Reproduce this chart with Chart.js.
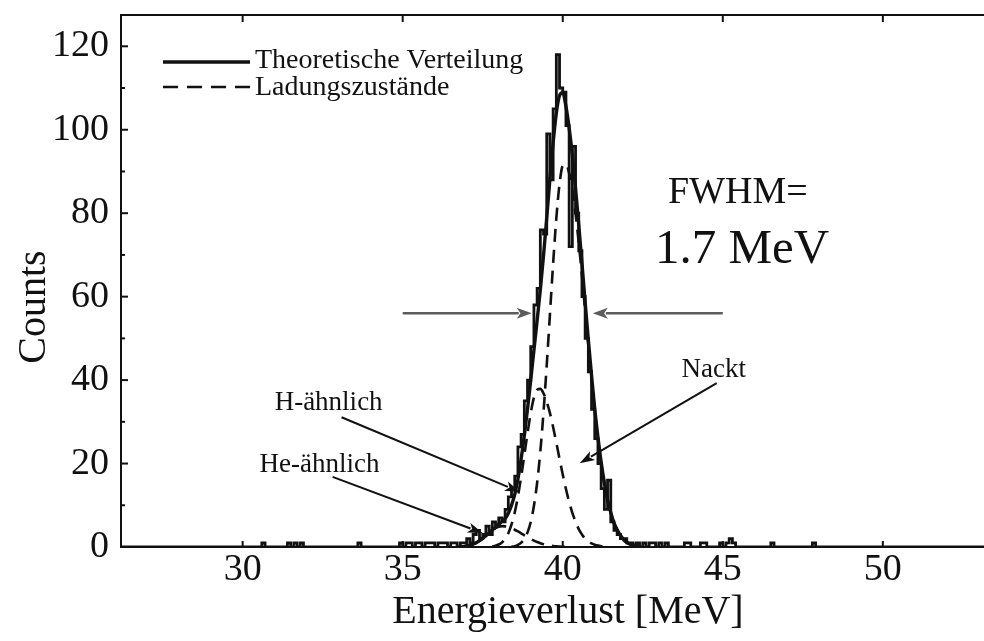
<!DOCTYPE html>
<html>
<head>
<meta charset="utf-8">
<script src="https://cdn.jsdelivr.net/npm/chart.js@4/dist/chart.umd.min.js"></script>
<style>
  html, body { margin: 0; padding: 0; background: #fff; }
  #wrap { width: 984px; height: 641px; }
</style>
</head>
<body>
<div id="wrap"><canvas id="c" width="984" height="641"></canvas></div>
<script>
// ---- Measured spectrum: counts per 0.1 MeV channel ----
const channelWidth = 0.1;
const peakFirstChannel = 35.0;            // lower edge of the first channel below
const peakCounts = [
  1, 0, 1, 1, 0, 1, 1, 0, 1, 1,           // 35.0 - 35.9
  1, 0, 1, 1, 1, 0, 1, 1, 0, 1,           // 36.0 - 36.9
  1, 2, 1, 3, 4, 2, 3, 5, 3, 6,           // 37.0 - 37.9
  5, 7, 6, 9, 12, 14, 17, 24, 27, 35,     // 38.0 - 38.9
  40, 48, 58, 62, 76, 75, 99, 88, 105, 118, // 39.0 - 39.9
  110, 109, 101, 72, 96, 80, 71, 60, 50, 42, // 40.0 - 40.9
  33, 26, 20, 14, 9, 16, 6, 4, 3, 2,      // 41.0 - 41.9
  2, 1, 1, 0, 1, 0, 1, 0, 1, 1,           // 42.0 - 42.9
  0, 1, 0, 1, 0, 0, 0, 0, 0, 1,           // 43.0 - 43.9
  1, 0, 0, 0, 1, 1, 0, 0, 0, 0,           // 44.0 - 44.9
  1, 0, 1, 2, 1, 0, 0, 0, 0, 0            // 45.0 - 45.9
];
// isolated single counts far from the peak
const strayChannels = [30.7, 31.5, 31.7, 31.9, 33.7, 46.6, 47.9];
const strayCounts   = [1, 1, 1, 1, 1, 1, 1];

// ---- Theoretical distribution and charge-state components (0.1 MeV grid) ----
const theoryStart = 36.8;
const theoryCounts = [
  0.1, 0.1, 0.3, 0.4, 0.7, 1.0, 1.5, 2.1, 2.7, 3.4,
  4.1, 4.8, 5.5, 6.1, 6.8, 8.1, 10.0, 12.6, 16.3, 21.1,
  26.7, 33.1, 40.0, 47.2, 54.3, 61.7, 69.9, 78.9, 88.3, 96.9,
  104.0, 108.2, 108.9, 105.6, 100.4, 93.9, 86.0, 77.2, 68.0, 58.6,
  49.6, 41.1, 33.1, 26.3, 20.3, 15.4, 11.3, 8.3, 5.8, 4.1,
  2.8, 1.8, 1.1, 0.7, 0.5, 0.3, 0.2
];
const nacktStart = 38.4;   // bare ions
const nacktCounts = [
  0.1, 0.2, 0.5, 1.0, 1.9, 3.5, 6.0, 9.9, 15.4, 22.9,
  32.4, 43.6, 55.8, 68.0, 78.8, 87.0, 91.4, 91.7, 89.6, 85.7,
  79.9, 72.9, 65.0, 56.6, 48.2, 40.2, 32.6, 26.0, 20.1, 15.3,
  11.3, 8.3, 5.8, 4.1, 2.8, 1.8, 1.1, 0.7, 0.5, 0.3, 0.2
];
const hLikeStart = 37.8;   // hydrogen-like ions
const hLikeCounts = [
  0.1, 0.3, 0.6, 1.1, 1.9, 3.3, 5.4, 8.3, 12.1, 16.8,
  22.0, 27.3, 32.1, 35.8, 37.7, 37.9, 36.8, 34.8, 32.1, 28.7,
  25.0, 21.1, 17.4, 13.9, 10.8, 8.2, 6.1, 4.3, 3.0, 2.0,
  1.35, 0.87, 0.54, 0.33, 0.19, 0.11
];
const heLikeStart = 36.7;  // helium-like ions
const heLikeCounts = [
  0.04, 0.08, 0.14, 0.25, 0.42, 0.68, 1.03, 1.49, 2.06, 2.7,
  3.37, 4.0, 4.53, 4.88, 5.0, 4.94, 4.77, 4.5, 4.14, 3.72,
  3.27, 2.8, 2.34, 1.92, 1.53, 1.19, 0.91, 0.68, 0.49, 0.35,
  0.24, 0.16, 0.11, 0.07, 0.04
];

// ---- Axes ----
const xTickValues = [30, 35, 40, 45, 50];
const yTickValues = [0, 20, 40, 60, 80, 100, 120];
const yMinorTickValues = [10, 30, 50, 70, 90, 110];
const xRange = [26.2, 53.16];
const yRange = [0, 127.5];
const xTitle = 'Energieverlust [MeV]';
const yTitle = 'Counts';

// ---- Build point lists ----
const tenth = v => Math.round(v * 10);
const channelMap = new Map();
peakCounts.forEach((c, i) => channelMap.set(tenth(peakFirstChannel) + i, c));
strayChannels.forEach((e, i) => channelMap.set(tenth(e), strayCounts[i]));
const histPoints = [];
for (let k = tenth(xRange[0]) - 1; k <= tenth(xRange[1]) + 1; k++) {
  histPoints.push({ x: k * channelWidth, y: channelMap.get(k) || 0 });
}
const gridPoints = (start, vals) => vals.map((v, i) => ({ x: (tenth(start) + i) / 10, y: v }));

const SERIF = "'Liberation Serif', 'Times New Roman', Times, serif";
const INK = '#111';
Chart.defaults.font.family = SERIF;
Chart.defaults.color = INK;

// Frame, inward ticks, axis titles, legend, FWHM marker and charge-state labels
const decor = {
  id: 'decor',
  afterDatasetsDraw(chart) {
    const { ctx, chartArea: a, scales: { x, y } } = chart;
    const X = v => x.getPixelForValue(v);
    const Y = v => y.getPixelForValue(v);
    const seg = (x1, y1, x2, y2) => { ctx.beginPath(); ctx.moveTo(x1, y1); ctx.lineTo(x2, y2); ctx.stroke(); };
    const arrow = (x1, y1, x2, y2, color, lw, len, half) => {
      const ang = Math.atan2(y2 - y1, x2 - x1);
      const bx = x2 - len * Math.cos(ang), by = y2 - len * Math.sin(ang);
      ctx.strokeStyle = color; ctx.fillStyle = color; ctx.lineWidth = lw;
      seg(x1, y1, bx + 2 * Math.cos(ang), by + 2 * Math.sin(ang));
      ctx.beginPath();
      ctx.moveTo(x2, y2);
      ctx.lineTo(bx - half * Math.sin(ang), by + half * Math.cos(ang));
      ctx.lineTo(bx + len * 0.25 * Math.cos(ang), by + len * 0.25 * Math.sin(ang));
      ctx.lineTo(bx + half * Math.sin(ang), by - half * Math.cos(ang));
      ctx.closePath();
      ctx.fill();
    };
    const text = (str, ex, cy, size) => {
      ctx.font = size + 'px ' + SERIF;
      ctx.fillStyle = INK;
      ctx.textAlign = 'left';
      ctx.textBaseline = 'alphabetic';
      ctx.fillText(str, X(ex), Y(cy));
    };

    ctx.save();
    ctx.lineCap = 'butt';

    // top frame line
    ctx.strokeStyle = INK; ctx.lineWidth = 2;
    seg(a.left - 1, a.top, a.right, a.top);

    // tick marks pointing into the plot
    yTickValues.forEach(v => seg(a.left, Y(v), a.left + 7, Y(v)));
    yMinorTickValues.forEach(v => seg(a.left, Y(v), a.left + 4, Y(v)));
    xTickValues.forEach(v => {
      seg(X(v), a.bottom, X(v), a.bottom - 6);
      seg(X(v), a.top, X(v), a.top + 7);
    });

    // axis titles
    ctx.fillStyle = INK;
    ctx.font = '40px ' + SERIF;
    ctx.textAlign = 'center';
    ctx.textBaseline = 'alphabetic';
    ctx.fillText(xTitle, 568, 623);
    ctx.save();
    ctx.translate(45, 307);
    ctx.rotate(-Math.PI / 2);
    ctx.fillText(yTitle, 0, 0);
    ctx.restore();

    // legend
    ctx.strokeStyle = INK;
    ctx.lineWidth = 3.5;
    seg(a.left + 42, a.top + 47, a.left + 129, a.top + 47);
    ctx.lineWidth = 2.5;
    ctx.setLineDash([15, 9]);
    seg(a.left + 42, a.top + 72, a.left + 129, a.top + 72);
    ctx.setLineDash([]);
    ctx.font = '28px ' + SERIF;
    ctx.fillStyle = INK;
    ctx.textAlign = 'left';
    ctx.fillText('Theoretische Verteilung', a.left + 134, a.top + 53);
    ctx.fillText('Ladungszustände', a.left + 134, a.top + 80);

    // FWHM marker
    arrow(X(35.0), Y(56), X(39.03), Y(56), '#5c5c5c', 2.5, 15, 5.5);
    arrow(X(45.0), Y(56), X(40.94), Y(56), '#5c5c5c', 2.5, 15, 5.5);
    text('FWHM=', 43.29, 82.4, 38);
    text('1.7 MeV', 42.88, 68.0, 49);

    // charge-state labels
    text('Nackt', 43.71, 40.8, 27);
    arrow(X(44.81), Y(39.3), X(40.53), Y(20.1), INK, 2, 15, 5);
    text('H-ähnlich', 31.0, 32.8, 27);
    arrow(X(33.09), Y(31.1), X(38.66), Y(13.2), INK, 2, 15, 5);
    text('He-ähnlich', 30.53, 18.0, 27);
    arrow(X(32.81), Y(16.8), X(37.5), Y(3.35), INK, 2, 15, 5);

    ctx.restore();
  }
};

const dashed = [13, 8];
new Chart(document.getElementById('c'), {
  type: 'line',
  data: {
    datasets: [
      { label: 'Theoretische Verteilung', data: gridPoints(theoryStart, theoryCounts),
        borderColor: INK, borderWidth: 3.4, pointRadius: 0, cubicInterpolationMode: 'monotone', fill: false },
      { label: 'Nackt', data: gridPoints(nacktStart, nacktCounts),
        borderColor: INK, borderWidth: 2.6, borderDash: dashed, pointRadius: 0, cubicInterpolationMode: 'monotone', fill: false },
      { label: 'H-ähnlich', data: gridPoints(hLikeStart, hLikeCounts),
        borderColor: INK, borderWidth: 2.6, borderDash: dashed, pointRadius: 0, cubicInterpolationMode: 'monotone', fill: false },
      { label: 'He-ähnlich', data: gridPoints(heLikeStart, heLikeCounts),
        borderColor: INK, borderWidth: 2.6, borderDash: dashed, pointRadius: 0, cubicInterpolationMode: 'monotone', fill: false },
      { label: 'Messung', data: histPoints, stepped: 'after',
        borderColor: INK, borderWidth: 2.8, pointRadius: 0, fill: false }
    ]
  },
  options: {
    responsive: false,
    animation: false,
    devicePixelRatio: 1,
    layout: { padding: { top: 15, right: 0, bottom: 0, left: 0 } },
    plugins: { legend: { display: false }, tooltip: { enabled: false } },
    scales: {
      x: {
        type: 'linear', position: 'bottom', min: xRange[0], max: xRange[1],
        afterBuildTicks: s => { s.ticks = xTickValues.map(v => ({ value: v })); },
        afterFit: s => { s.height = 94; s.paddingLeft = 0; s.paddingRight = 0; },
        grid: { display: false, drawTicks: false },
        border: { display: true, color: INK, width: 2 },
        ticks: { padding: 0, maxRotation: 0, autoSkip: false, font: { size: 38 }, color: INK }
      },
      y: {
        type: 'linear', position: 'left', min: yRange[0], max: yRange[1],
        afterBuildTicks: s => { s.ticks = yTickValues.map(v => ({ value: v })); },
        afterFit: s => { s.width = 121; s.paddingTop = 0; s.paddingBottom = 0; },
        grid: { display: false, drawTicks: false },
        border: { display: true, color: INK, width: 2 },
        ticks: { padding: 12, autoSkip: false, font: { size: 38 }, color: INK }
      }
    }
  },
  plugins: [decor]
});
</script>
</body>
</html>
